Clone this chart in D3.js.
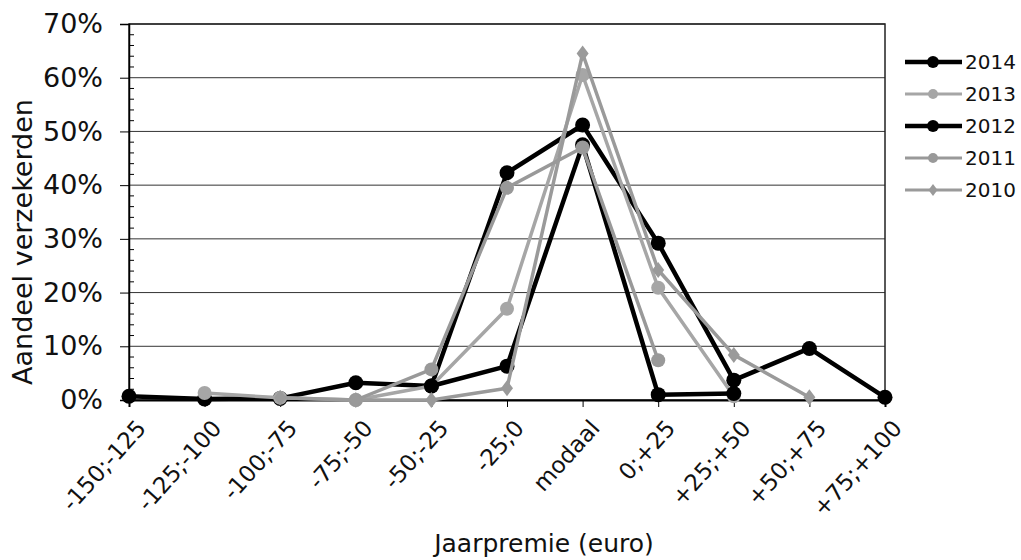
<!DOCTYPE html>
<html>
<head>
<meta charset="utf-8">
<script src="https://cdn.jsdelivr.net/npm/d3@7/dist/d3.min.js"></script>
<style>
  html, body { margin: 0; padding: 0; background: #fff; }
  svg { display: block; font-family: "DejaVu Sans", Verdana, sans-serif; }
</style>
</head>
<body>
<svg id="chart" width="1021" height="560"></svg>
<script>
const categories = ["-150;-125","-125;-100","-100;-75","-75;-50","-50;-25","-25;0","modaal","0;+25","+25;+50","+50;+75","+75;+100"];
const yTicks = [0, 10, 20, 30, 40, 50, 60, 70];
const seriesNames = ["2014", "2013", "2012", "2011", "2010"];
const values2014 = [0.7, 0.2, 0.3, 3.2, 2.6, 42.3, 51.2, 29.2, 3.7, 9.6, 0.5];
const values2013 = [null, 1.3, 0.4, 0.0, 2.6, 17.0, 60.5, 20.9, 0.7, null, null];
const values2012 = [null, null, null, null, 2.6, 6.3, 47.5, 1.0, 1.2, null, null];
const values2011 = [null, null, null, 0.0, 5.7, 39.5, 47.0, 7.4, null, null, null];
const values2010 = [null, null, 0.4, 0.0, 0.0, 2.2, 64.5, 24.2, 8.4, 0.5, null];
const xTitle = "Jaarpremie (euro)";
const yTitle = "Aandeel verzekerden";

const seriesValues = [values2014, values2013, values2012, values2011, values2010];
const styles = [
  {color: "#000", width: 4.5, shape: "circle", r: 7.5},
  {color: "#a6a6a6", width: 3.5, shape: "circle", r: 7},
  {color: "#000", width: 4.5, shape: "circle", r: 7.5},
  {color: "#999", width: 3.5, shape: "circle", r: 7},
  {color: "#9a9a9a", width: 3.5, shape: "diamond", r: 8}
];

const svg = d3.select("#chart");
const pLeft = 129, pRight = 885, pTop = 24, pBottom = 400;
const x = d3.scalePoint().domain(categories).range([pLeft, pRight]);
const y = d3.scaleLinear().domain([0, 70]).range([pBottom, pTop]);

// gridlines
svg.append("g").selectAll("line").data(yTicks.filter(d => d > 0)).join("line")
  .attr("x1", pLeft).attr("x2", pRight)
  .attr("y1", d => y(d)).attr("y2", d => y(d))
  .attr("stroke", "#333").attr("stroke-width", 1);

// frame
svg.append("rect").attr("x", pLeft).attr("y", pTop).attr("width", pRight - pLeft).attr("height", pBottom - pTop)
  .attr("fill", "none").attr("stroke", "#222").attr("stroke-width", 1.5);

// y axis
const yAxis = svg.append("g").attr("transform", `translate(${pLeft},0)`)
  .call(d3.axisLeft(y).tickValues(yTicks).tickFormat(d => d + "%").tickSize(9).tickPadding(17));
yAxis.select(".domain").attr("stroke", "#000").attr("stroke-width", 1.5);
yAxis.selectAll(".tick line").attr("stroke", "#000");
yAxis.selectAll("text").attr("font-size", 27).attr("fill", "#111").attr("font-family", "DejaVu Sans");
// minor ticks inside
svg.append("g").selectAll("line").data(d3.range(0, 70, 2).filter(d => d % 10 !== 0)).join("line")
  .attr("x1", pLeft).attr("x2", pLeft + 5)
  .attr("y1", d => y(d)).attr("y2", d => y(d))
  .attr("stroke", "#000").attr("stroke-width", 1);

// x axis
const xAxis = svg.append("g").attr("transform", `translate(0,${pBottom})`)
  .call(d3.axisBottom(x).tickSize(7).tickFormat(""));
xAxis.select(".domain").attr("stroke", "#000").attr("stroke-width", 2);
xAxis.selectAll(".tick line").attr("stroke", "#000");

svg.append("g").selectAll("text").data(categories).join("text")
  .attr("transform", d => `translate(${x(d) + 6},418) rotate(-48)`)
  .attr("text-anchor", "end").attr("dy", "0.72em")
  .attr("font-size", 23).attr("fill", "#111")
  .text(d => d);

// titles
svg.append("text").attr("x", 544).attr("y", 552).attr("text-anchor", "middle")
  .attr("font-size", 25).attr("fill", "#111").text(xTitle);
svg.append("text").attr("transform", "translate(32,242) rotate(-90)").attr("text-anchor", "middle")
  .attr("font-size", 27).attr("fill", "#111").text(yTitle);

// lines
const line = d3.line().defined(d => d.v !== null).x(d => x(d.c)).y(d => y(d.v));
const diamond = (r) => `M0,${-r}L${r*0.75},0L0,${r}L${-r*0.75},0Z`;

seriesValues.forEach((vals, i) => {
  const st = styles[i];
  const pts = categories.map((c, j) => ({c, v: vals[j]}));
  const g = svg.append("g");
  g.append("path").datum(pts).attr("d", line)
    .attr("fill", "none").attr("stroke", st.color).attr("stroke-width", st.width)
    .attr("stroke-linejoin", "round");
  const defined = pts.filter(d => d.v !== null);
  if (st.shape === "circle") {
    g.selectAll("circle").data(defined).join("circle")
      .attr("cx", d => x(d.c)).attr("cy", d => y(d.v)).attr("r", st.r)
      .attr("fill", st.color);
  } else {
    g.selectAll("path.m").data(defined).join("path").attr("class", "m")
      .attr("transform", d => `translate(${x(d.c)},${y(d.v)})`)
      .attr("d", diamond(st.r)).attr("fill", st.color);
  }
});

// legend
const lg = svg.append("g");
seriesNames.forEach((name, i) => {
  const st = styles[i];
  const cy = 62 + i * 32;
  lg.append("line").attr("x1", 905).attr("x2", 962).attr("y1", cy).attr("y2", cy)
    .attr("stroke", st.color).attr("stroke-width", st.color === "#000" ? 4.5 : 3);
  if (st.shape === "circle") {
    lg.append("circle").attr("cx", 933).attr("cy", cy).attr("r", st.color === "#000" ? 6 : 5).attr("fill", st.color);
  } else {
    lg.append("path").attr("transform", `translate(933,${cy})`).attr("d", diamond(6)).attr("fill", st.color);
  }
  lg.append("text").attr("x", 965).attr("y", cy).attr("dy", "0.36em")
    .attr("font-size", 20).attr("fill", "#111").text(name);
});
</script>
</body>
</html>
